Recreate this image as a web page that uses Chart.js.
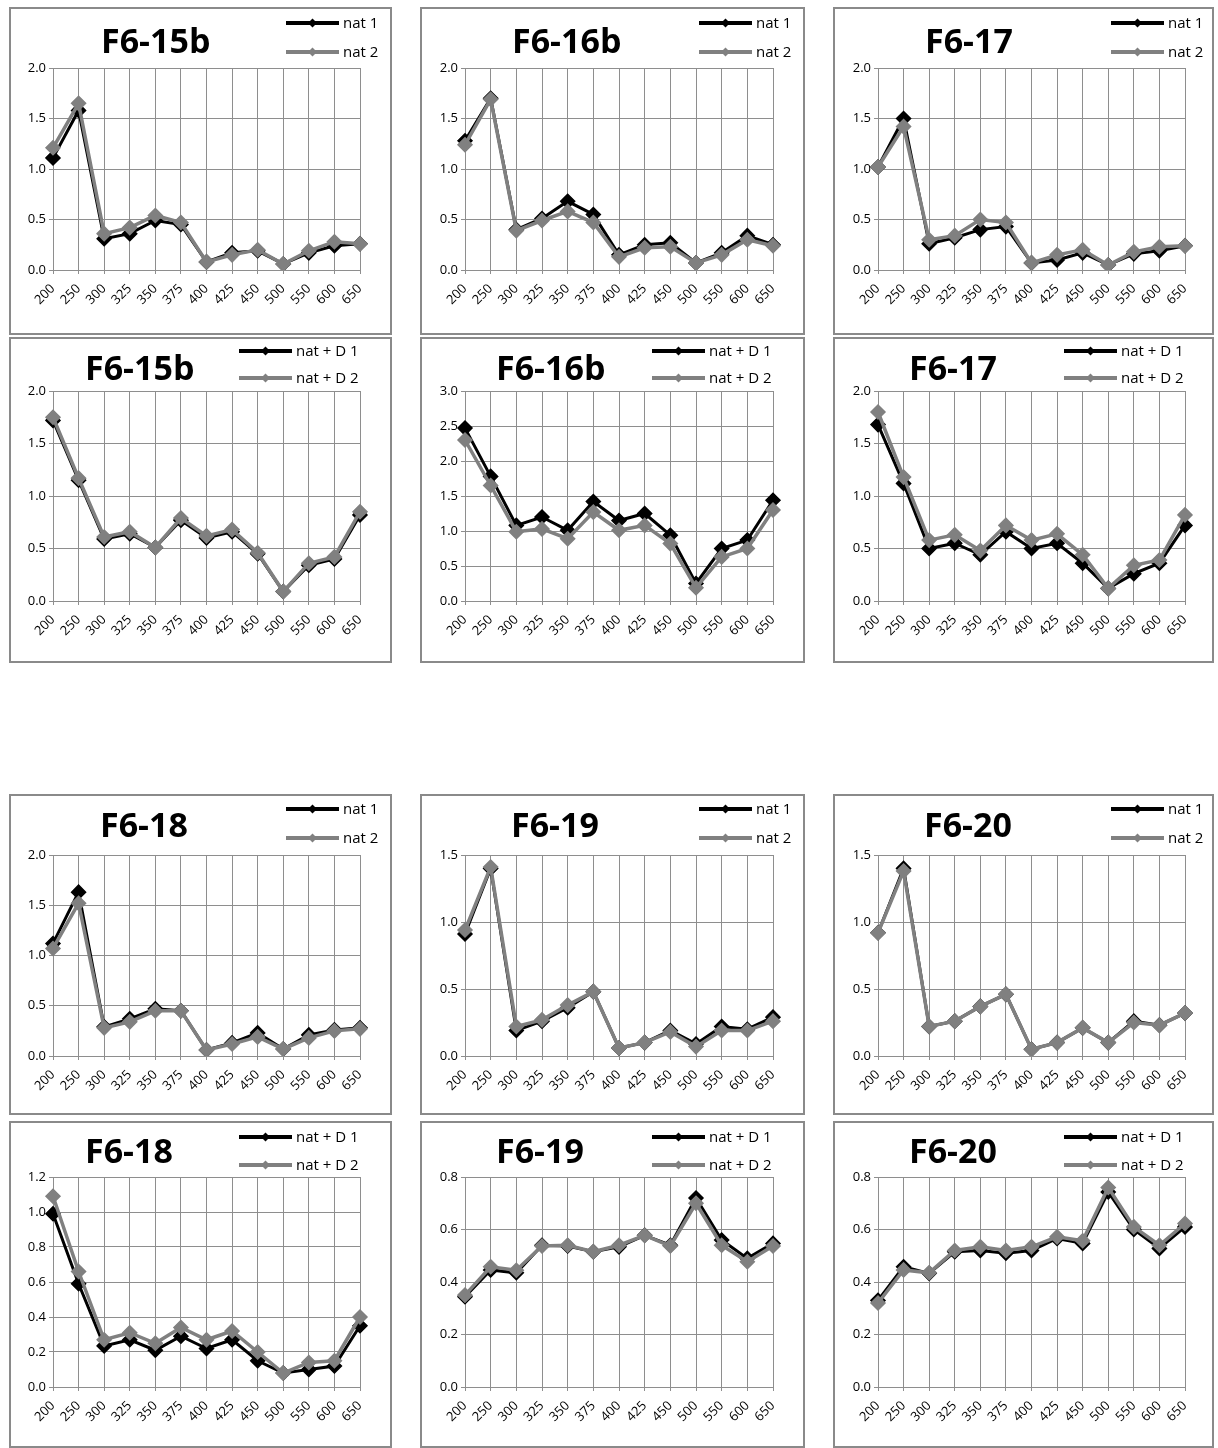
<!DOCTYPE html>
<html>
<head>
<meta charset="utf-8">
<script src="https://cdn.jsdelivr.net/npm/chart.js@4.4.0/dist/chart.umd.min.js"></script>
<style>
  html, body { margin: 0; padding: 0; background: #fff; }
  body { width: 1218px; height: 1448px; position: relative; overflow: hidden; }
  canvas { position: absolute; }
</style>
</head>
<body>
<script>
// ── DATA ──────────────────────────────────────────────────────
const wavelengths = ['200', '250', '300', '325', '350', '375', '400', '425', '450', '500', '550', '600', '650'];

const natLabels  = ['nat 1', 'nat 2'];
const natDLabels = ['nat + D 1', 'nat + D 2'];

// y tick values
const ticksTo2   = [0, 0.5, 1.0, 1.5, 2.0];
const ticksTo3   = [0, 0.5, 1.0, 1.5, 2.0, 2.5, 3.0];
const ticksTo15  = [0, 0.5, 1.0, 1.5];
const ticksTo12  = [0, 0.2, 0.4, 0.6, 0.8, 1.0, 1.2];
const ticksTo08  = [0, 0.2, 0.4, 0.6, 0.8];

// nat
const f615bNat1 = [1.11, 1.58, 0.31, 0.36, 0.49, 0.45, 0.08, 0.17, 0.19, 0.06, 0.17, 0.24, 0.26];
const f615bNat2 = [1.21, 1.65, 0.36, 0.42, 0.54, 0.47, 0.08, 0.15, 0.20, 0.06, 0.19, 0.28, 0.26];
const f616bNat1 = [1.28, 1.70, 0.40, 0.51, 0.68, 0.55, 0.15, 0.25, 0.27, 0.07, 0.17, 0.34, 0.25];
const f616bNat2 = [1.24, 1.69, 0.39, 0.49, 0.58, 0.47, 0.13, 0.22, 0.23, 0.07, 0.15, 0.30, 0.24];
const f617Nat1  = [1.02, 1.50, 0.26, 0.32, 0.40, 0.43, 0.07, 0.10, 0.17, 0.05, 0.16, 0.19, 0.24];
const f617Nat2  = [1.02, 1.42, 0.30, 0.34, 0.50, 0.47, 0.07, 0.15, 0.20, 0.05, 0.18, 0.23, 0.24];
const f618Nat1  = [1.12, 1.63, 0.29, 0.37, 0.47, 0.45, 0.06, 0.13, 0.23, 0.07, 0.21, 0.26, 0.28];
const f618Nat2  = [1.07, 1.52, 0.28, 0.34, 0.45, 0.45, 0.06, 0.12, 0.19, 0.07, 0.18, 0.25, 0.27];
const f619Nat1  = [0.91, 1.40, 0.19, 0.26, 0.36, 0.48, 0.06, 0.10, 0.19, 0.09, 0.22, 0.20, 0.29];
const f619Nat2  = [0.94, 1.41, 0.22, 0.27, 0.38, 0.48, 0.06, 0.10, 0.18, 0.07, 0.19, 0.19, 0.26];
const f620Nat1  = [0.92, 1.40, 0.22, 0.26, 0.37, 0.46, 0.05, 0.10, 0.21, 0.10, 0.26, 0.23, 0.32];
const f620Nat2  = [0.92, 1.38, 0.22, 0.26, 0.37, 0.46, 0.05, 0.10, 0.21, 0.10, 0.25, 0.23, 0.32];

// nat + D
const f615bD1 = [1.72, 1.15, 0.59, 0.64, 0.51, 0.77, 0.60, 0.66, 0.45, 0.09, 0.34, 0.40, 0.82];
const f615bD2 = [1.75, 1.17, 0.61, 0.66, 0.51, 0.79, 0.62, 0.68, 0.46, 0.09, 0.36, 0.42, 0.85];
const f616bD1 = [2.47, 1.78, 1.08, 1.20, 1.01, 1.42, 1.15, 1.25, 0.94, 0.25, 0.75, 0.87, 1.44];
const f616bD2 = [2.30, 1.65, 0.99, 1.03, 0.89, 1.27, 1.01, 1.08, 0.82, 0.19, 0.63, 0.75, 1.30];
const f617D1  = [1.68, 1.12, 0.50, 0.55, 0.44, 0.66, 0.50, 0.55, 0.36, 0.12, 0.26, 0.36, 0.72];
const f617D2  = [1.80, 1.18, 0.58, 0.63, 0.48, 0.72, 0.58, 0.64, 0.44, 0.12, 0.34, 0.39, 0.82];
const f618D1  = [0.99, 0.59, 0.235, 0.27, 0.21, 0.29, 0.22, 0.27, 0.15, 0.08, 0.10, 0.12, 0.35];
const f618D2  = [1.09, 0.66, 0.27, 0.31, 0.25, 0.34, 0.27, 0.32, 0.20, 0.08, 0.14, 0.15, 0.40];
const f619D1  = [0.344, 0.446, 0.435, 0.54, 0.537, 0.515, 0.534, 0.578, 0.54, 0.72, 0.56, 0.49, 0.547];
const f619D2  = [0.35, 0.458, 0.445, 0.537, 0.54, 0.515, 0.54, 0.578, 0.537, 0.70, 0.54, 0.477, 0.537];
const f620D1  = [0.33, 0.458, 0.433, 0.515, 0.52, 0.51, 0.52, 0.566, 0.547, 0.743, 0.60, 0.528, 0.61];
const f620D2  = [0.32, 0.446, 0.435, 0.52, 0.534, 0.52, 0.534, 0.572, 0.557, 0.76, 0.61, 0.54, 0.623];

const panels = [
  { title: 'F6-15b', names: natLabels,  s1: f615bNat1, s2: f615bNat2, yTicks: ticksTo2,  col: 0, row: 0 },
  { title: 'F6-16b', names: natLabels,  s1: f616bNat1, s2: f616bNat2, yTicks: ticksTo2,  col: 1, row: 0 },
  { title: 'F6-17',  names: natLabels,  s1: f617Nat1,  s2: f617Nat2,  yTicks: ticksTo2,  col: 2, row: 0 },
  { title: 'F6-15b', names: natDLabels, s1: f615bD1,   s2: f615bD2,   yTicks: ticksTo2,  col: 0, row: 1 },
  { title: 'F6-16b', names: natDLabels, s1: f616bD1,   s2: f616bD2,   yTicks: ticksTo3,  col: 1, row: 1 },
  { title: 'F6-17',  names: natDLabels, s1: f617D1,    s2: f617D2,    yTicks: ticksTo2,  col: 2, row: 1 },
  { title: 'F6-18',  names: natLabels,  s1: f618Nat1,  s2: f618Nat2,  yTicks: ticksTo2,  col: 0, row: 2 },
  { title: 'F6-19',  names: natLabels,  s1: f619Nat1,  s2: f619Nat2,  yTicks: ticksTo15, col: 1, row: 2 },
  { title: 'F6-20',  names: natLabels,  s1: f620Nat1,  s2: f620Nat2,  yTicks: ticksTo15, col: 2, row: 2 },
  { title: 'F6-18',  names: natDLabels, s1: f618D1,    s2: f618D2,    yTicks: ticksTo12, col: 0, row: 3 },
  { title: 'F6-19',  names: natDLabels, s1: f619D1,    s2: f619D2,    yTicks: ticksTo08, col: 1, row: 3 },
  { title: 'F6-20',  names: natDLabels, s1: f620D1,    s2: f620D2,    yTicks: ticksTo08, col: 2, row: 3 },
];

// ── LAYOUT ────────────────────────────────────────────────────
const COLS = [
  { left: 9,   width: 383, plotLeft: 44, plotRight: 351 },
  { left: 420, width: 385, plotLeft: 45, plotRight: 353 },
  { left: 833, width: 381, plotLeft: 45, plotRight: 352 },
];
const ROWS = [
  { top: 7,    height: 328, plotTop: 61, plotBottom: 263, titleX: 92, titleBase: 46, legendBack: 74,  legendY: [16, 45] },
  { top: 337,  height: 326, plotTop: 54, plotBottom: 264, titleX: 76, titleBase: 43, legendBack: 121, legendY: [14, 41] },
  { top: 794,  height: 321, plotTop: 61, plotBottom: 262, titleX: 91, titleBase: 43, legendBack: 74,  legendY: [15, 44] },
  { top: 1121, height: 327, plotTop: 56, plotBottom: 266, titleX: 76, titleBase: 42, legendBack: 121, legendY: [16, 44] },
];

const BLACK = '#000000';
const GREY  = '#808080';
const GRID  = '#8e8e8e';
const FONT  = '"Open Sans", "DejaVu Sans", sans-serif';

// ── PANEL DECOR (frame, title, legend) ────────────────────────
const panelDecor = {
  id: 'panelDecor',
  beforeDraw(chart) {
    const { ctx, width, height } = chart;
    ctx.save();
    ctx.fillStyle = '#fff';
    ctx.fillRect(0, 0, width, height);
    ctx.strokeStyle = '#8a8a8a';
    ctx.lineWidth = 2;
    ctx.strokeRect(1, 1, width - 2, height - 2);
    ctx.restore();
  },
  afterDraw(chart, args, opts) {
    const ctx = chart.ctx;
    ctx.save();
    ctx.fillStyle = '#000';
    ctx.font = `bold 34px ${FONT}`;
    ctx.textAlign = 'left';
    ctx.textBaseline = 'alphabetic';
    ctx.fillText(opts.title, opts.titleX, opts.titleBase);

    chart.data.datasets.forEach((ds, i) => {
      const x0 = opts.legendX;
      const y = opts.legendY[i];
      ctx.strokeStyle = ds.borderColor;
      ctx.lineWidth = 4;
      ctx.beginPath();
      ctx.moveTo(x0, y);
      ctx.lineTo(x0 + 53, y);
      ctx.stroke();
      const cx = x0 + 26.5, r = 4.5;
      ctx.fillStyle = ds.pointBackgroundColor;
      ctx.beginPath();
      ctx.moveTo(cx - r, y); ctx.lineTo(cx, y - r); ctx.lineTo(cx + r, y); ctx.lineTo(cx, y + r);
      ctx.closePath();
      ctx.fill();
      ctx.fillStyle = '#000';
      ctx.font = `15px ${FONT}`;
      ctx.textBaseline = 'middle';
      ctx.fillText(ds.label, x0 + 57, y + 1);
    });
    ctx.restore();
  },
};

// ── BUILD ─────────────────────────────────────────────────────
function series(label, values, color, width, order) {
  return {
    label,
    data: values,
    borderColor: color,
    backgroundColor: color,
    borderWidth: width,
    pointStyle: 'rectRot',
    pointRadius: 7,
    pointBorderWidth: 1.5,
    pointBackgroundColor: color,
    pointBorderColor: color,
    tension: 0,
    fill: false,
    order,
  };
}

panels.forEach(p => {
  const col = COLS[p.col], row = ROWS[p.row];
  const canvas = document.createElement('canvas');
  canvas.width = col.width;
  canvas.height = row.height;
  canvas.style.left = col.left + 'px';
  canvas.style.top = row.top + 'px';
  document.body.appendChild(canvas);

  const yMax = p.yTicks[p.yTicks.length - 1];

  new Chart(canvas, {
    type: 'line',
    data: {
      labels: wavelengths,
      datasets: [
        series(p.names[0], p.s1, BLACK, 3, 2),   // drawn underneath
        series(p.names[1], p.s2, GREY, 3.5, 1),
      ],
    },
    options: {
      responsive: false,
      animation: false,
      devicePixelRatio: 1,
      layout: {
        padding: { top: row.plotTop, right: col.width - col.plotRight, bottom: 0, left: 0 },
      },
      plugins: {
        legend: { display: false },
        title: { display: false },
        tooltip: { enabled: false },
        panelDecor: {
          title: p.title,
          titleX: row.titleX,
          titleBase: row.titleBase,
          legendX: col.plotRight - row.legendBack,
          legendY: row.legendY,
        },
      },
      scales: {
        x: {
          offset: false,
          grid: { color: GRID, lineWidth: 1, tickLength: 4, drawTicks: true },
          border: { color: GRID, width: 1 },
          ticks: {
            color: '#000',
            font: { size: 13, family: FONT },
            minRotation: 45,
            maxRotation: 45,
            autoSkip: false,
            padding: 7,
          },
          afterFit: s => { s.height = row.height - row.plotBottom; },
        },
        y: {
          min: 0,
          max: yMax,
          grid: { color: GRID, lineWidth: 1, tickLength: 4, drawTicks: true },
          border: { color: GRID, width: 1 },
          ticks: {
            color: '#000',
            font: { size: 13, family: FONT },
            padding: 3,
            callback: v => Number(v).toFixed(1),
          },
          afterBuildTicks: s => { s.ticks = p.yTicks.map(v => ({ value: v })); },
          afterFit: s => { s.width = col.plotLeft; },
        },
      },
    },
    plugins: [panelDecor],
  });
});
</script>
</body>
</html>
